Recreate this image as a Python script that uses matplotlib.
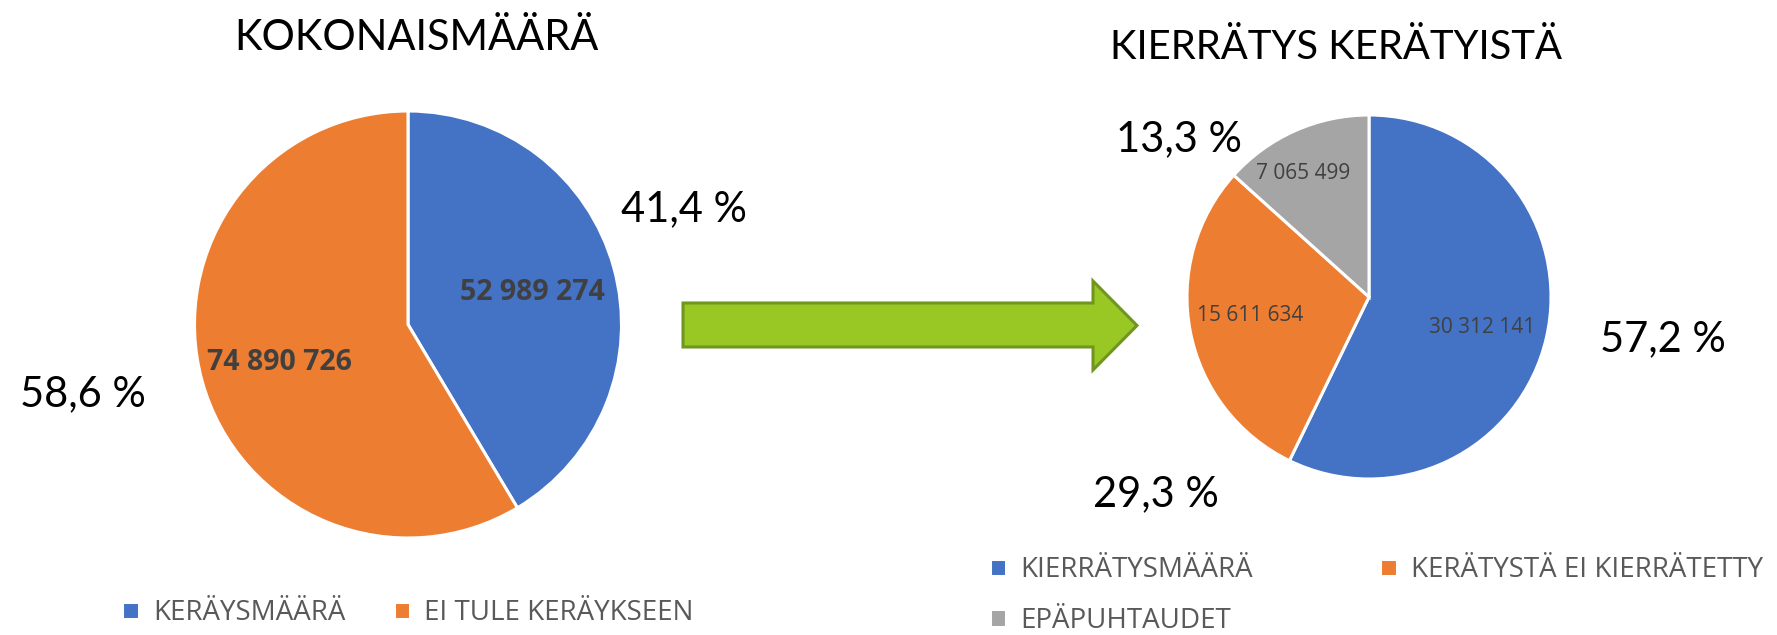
import matplotlib
matplotlib.use("Agg")
import matplotlib.pyplot as plt
from matplotlib.patches import Polygon

# data
total_labels = ["KERÄYSMÄÄRÄ", "EI TULE KERÄYKSEEN"]
total_values = [52989274, 74890726]
total_pct = ["41,4 %", "58,6 %"]

recycle_labels = ["KIERRÄTYSMÄÄRÄ", "KERÄTYSTÄ EI KIERRÄTETTY", "EPÄPUHTAUDET"]
recycle_values = [30312141, 15611634, 7065499]
recycle_pct = ["57,2 %", "29,3 %", "13,3 %"]

colors = ["#4472C4", "#ED7D31", "#A5A5A5"]

W, H = 1777, 635
fig = plt.figure(figsize=(W / 100, H / 100), dpi=100)

TITLE_FONT = ["Lato", "DejaVu Sans"]
LEGEND_FONT = ["Liberation Sans Narrow", "Open Sans", "DejaVu Sans"]
VALUE_FONT = ["Open Sans", "DejaVu Sans"]


def pie_axes(cx, cy, r):
    # pixel centre / radius -> axes rectangle
    ax = fig.add_axes([(cx - r) / W, (H - cy - r) / H, 2 * r / W, 2 * r / H])
    return ax


def fmt(v):
    return f"{v:,}".replace(",", " ")


def draw_pie(ax, values, pct, pct_pos, val_pos, bold):
    wedges, _ = ax.pie(values, colors=colors[:len(values)], startangle=90,
                       counterclock=False,
                       wedgeprops=dict(edgecolor="white", linewidth=2.2))
    ax.set_xlim(-1, 1)
    ax.set_ylim(-1, 1)
    ax.set_aspect("equal")
    ax.axis("off")
    for v, (x, y) in zip(values, val_pos):
        ax.text(x, y, fmt(v), ha="center", va="center", color="#404040",
                fontsize=20.5 if bold else 15,
                fontweight="bold" if bold else "normal", family=VALUE_FONT)
    for p, (x, y) in zip(pct, pct_pos):
        ax.text(x, y, p, ha="center", va="center", color="black",
                fontsize=30, family=TITLE_FONT)
    return wedges


# left pie: kokonaismäärä
ax1 = pie_axes(408, 324.5, 213.5)
w1 = draw_pie(ax1, total_values, total_pct,
              pct_pos=[(1.293, 0.541), (-1.522, -0.326)],
              val_pos=[(0.585, 0.152), (-0.600, -0.176)], bold=True)
ax1.text(0.04, 1.34, "KOKONAISMÄÄRÄ", ha="center", va="center",
         fontsize=30, family=TITLE_FONT)
ax1.legend(w1, total_labels, loc="center", bbox_to_anchor=(0.5, -0.176),
           ncol=2, frameon=False, handlelength=0.6, handleheight=0.6,
           handletextpad=0.5, columnspacing=1.75,
           prop=dict(family=LEGEND_FONT, size=20), labelcolor="#595959")

# right pie: kierrätys kerätyistä
ax2 = pie_axes(1369, 297, 182)
w2 = draw_pie(ax2, recycle_values, recycle_pct,
              pct_pos=[(1.615, -0.231), (-1.170, -1.082), (-1.044, 0.868)],
              val_pos=[(0.621, -0.165), (-0.654, -0.099), (-0.363, 0.681)],
              bold=False)
ax2.text(-0.18, 1.37, "KIERRÄTYS KERÄTYISTÄ", ha="center", va="center",
         fontsize=28.8, family=TITLE_FONT)
order = [0, 2, 1]
ax2.legend([w2[i] for i in order], [recycle_labels[i] for i in order],
           loc="center", bbox_to_anchor=(0.52, -0.32),
           ncol=2, frameon=False, handlelength=0.6, handleheight=0.6,
           handletextpad=0.5, columnspacing=4.6, labelspacing=0.8,
           prop=dict(family=LEGEND_FONT, size=20), labelcolor="#595959")

# green arrow between the pies (pixel outline, y downwards)
arrow_px = [(683, 303), (1093, 303), (1093, 281), (1137, 325.5),
            (1093, 370), (1093, 347), (683, 347)]
arrow = Polygon([(x / W, 1 - y / H) for x, y in arrow_px], closed=True,
                facecolor="#99C825", edgecolor="#71961E", linewidth=2.2,
                transform=fig.transFigure)
fig.add_artist(arrow)

fig.savefig("out.png", dpi=100, facecolor="white")
